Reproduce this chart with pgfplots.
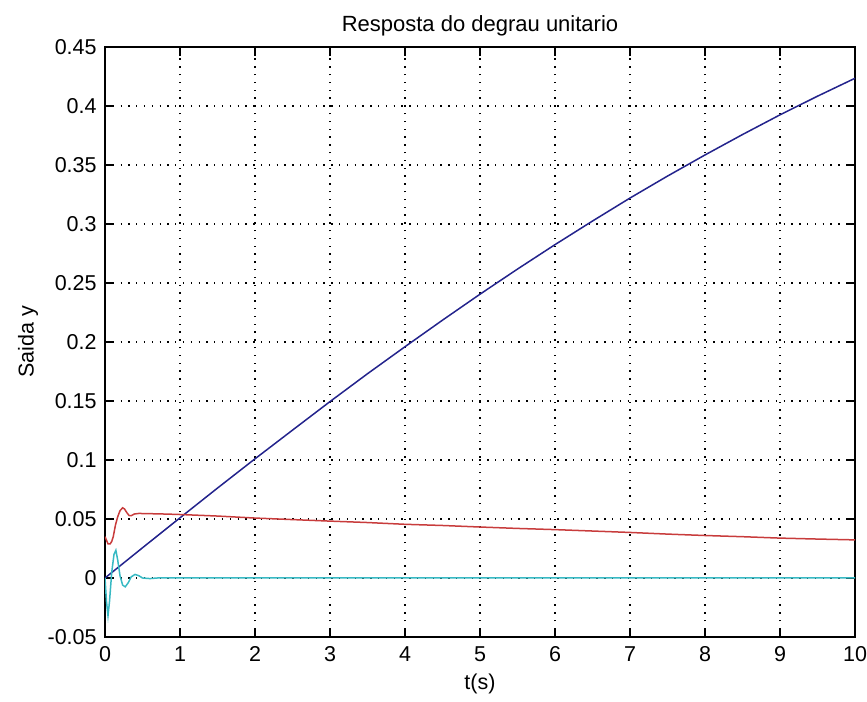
\documentclass[border=0pt]{standalone}
\usepackage{fontspec}
\setmainfont{Liberation Sans}
\usepackage{pgfplots}
\pgfplotsset{compat=1.18}
\definecolor{myblue}{RGB}{35,35,140}
\definecolor{myred}{RGB}{200,60,60}
\definecolor{mycyan}{RGB}{55,185,195}

\pgfplotstableread{
t y
0 0
0.5 0.0256
1 0.051
1.5 0.0762
2 0.101
2.5 0.1253
3 0.1495
3.5 0.1731
4 0.196
4.5 0.2185
5 0.2405
5.5 0.2618
6 0.2825
6.5 0.3025
7 0.322
7.5 0.3406
8 0.3585
8.5 0.3758
9 0.3925
9.5 0.4083
10 0.4235
}\blueA

\pgfplotstableread{
t y
0 0.035
0.02 0.032
0.04 0.029
0.07 0.029
0.09 0.031
0.11 0.035
0.14 0.045
0.17 0.052
0.2 0.057
0.235 0.0595
0.26 0.0585
0.29 0.0555
0.32 0.053
0.35 0.0528
0.39 0.0542
0.45 0.0547
0.6 0.0545
0.8 0.0542
1 0.0538
1.5 0.0525
2 0.0508
2.5 0.0495
3 0.0482
3.5 0.047
4 0.0455
4.5 0.0445
5 0.0432
5.5 0.042
6 0.041
6.5 0.0398
7 0.0386
7.5 0.0372
8 0.036
8.5 0.035
9 0.0338
9.5 0.033
10 0.0323
}\redB

\pgfplotstableread{
t y
0 0
0.02 -0.02
0.04 -0.032
0.06 -0.02
0.09 0.005
0.12 0.02
0.145 0.0235
0.17 0.015
0.2 0.002
0.235 -0.006
0.27 -0.0075
0.31 -0.004
0.35 0.001
0.4 0.003
0.45 0.002
0.5 0
0.6 -0.0005
0.7 0
10 0
}\cyanC

\begin{document}
\fontsize{21.5}{25}\selectfont
\begin{tikzpicture}
\begin{axis}[
  name=ax,
  scale only axis,
  width=750pt, height=590pt,
  xmin=0, xmax=10, ymin=-0.05, ymax=0.45,
  xtick={0,1,2,3,4,5,6,7,8,9,10},
  ytick={-0.05,0,0.05,0.1,0.15,0.2,0.25,0.3,0.35,0.4,0.45},
  yticklabels={-0.05,0,0.05,0.1,0.15,0.2,0.25,0.3,0.35,0.4,0.45},
  xticklabels={0,1,2,3,4,5,6,7,8,9,10},
  tick align=inside,
  major tick length=9pt,
  axis line style={line width=1.3pt, black},
  every tick/.style={line width=1.3pt, black},
  grid=major,
  major grid style={black, line width=1.3pt, dash pattern=on 1.3pt off 6.5pt},
  ticklabel style={font=\fontsize{21.5}{25}\selectfont},
  xticklabel style={yshift=-2pt},
  yticklabel style={xshift=-1pt},
  title={Resposta do degrau unitario},
  title style={font=\fontsize{22}{26}\selectfont, yshift=-2pt},
  xlabel={t(s)},
  ylabel={Saida y},
  label style={font=\fontsize{21.5}{25}\selectfont},
  xlabel style={yshift=2pt},
  ylabel style={yshift=-5pt},
  clip=true,
]
\addplot[myblue, line width=1.5pt] table[x=t,y=y] {\blueA};
\addplot[myred, line width=1.5pt] table[x=t,y=y] {\redB};
\addplot[mycyan, line width=1.5pt] table[x=t,y=y] {\cyanC};
\end{axis}
\pgfresetboundingbox
\path[use as bounding box] ([xshift=-105pt,yshift=-65pt]ax.south west) rectangle ([xshift=12pt,yshift=47pt]ax.north east);
\end{tikzpicture}
\end{document}
